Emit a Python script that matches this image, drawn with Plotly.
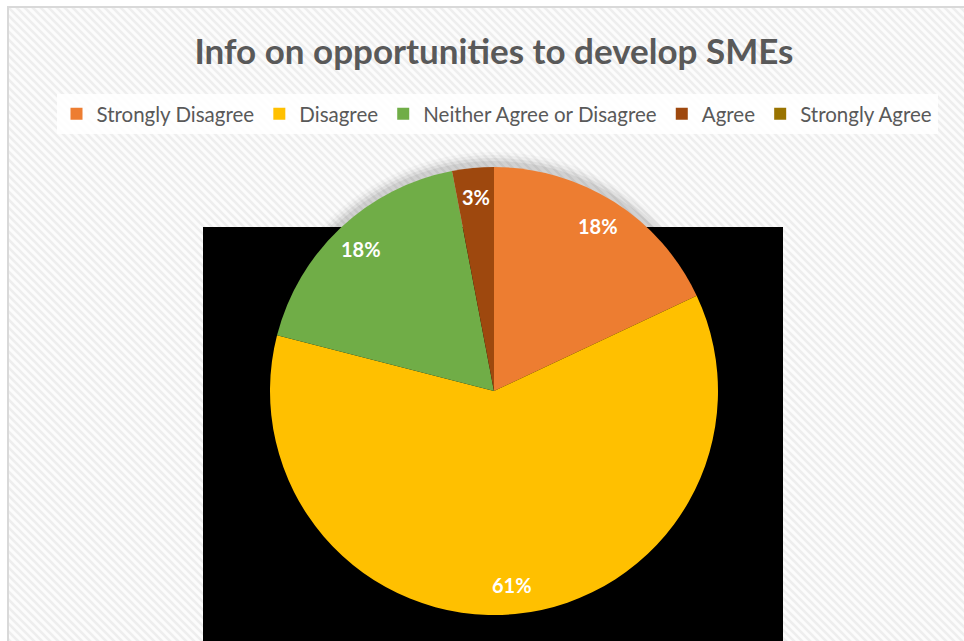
import base64
import math
import plotly.graph_objects as go

# Survey responses
categories = ["Strongly Disagree", "Disagree", "Neither Agree or Disagree", "Agree", "Strongly Agree"]
shares = [18, 61, 18, 3, 0]
colors = ["#ED7D31", "#FFC000", "#70AD47", "#9E480E", "#997300"]
chart_title = "Info on opportunities to develop SMEs"

W, H = 964, 641
FONT = "Lato, 'Open Sans', sans-serif"

# Pie placement in pixels
cx, cy, R = 494, 391, 224
dom_x = [(cx - R) / W, (cx + R) / W]
dom_y = [1 - (cy + R) / H, 1 - (cy - R) / H]

fig = go.Figure()
fig.add_trace(go.Pie(
    labels=categories,
    values=shares,
    marker=dict(colors=colors, line=dict(width=0)),
    sort=False,
    direction="clockwise",
    rotation=0,
    textinfo="none",
    hoverinfo="label+percent",
    domain=dict(x=dom_x, y=dom_y),
))

# Percentage labels placed near the outer edge of each slice
total = sum(shares)
cum = 0
annotations = []
for v in shares:
    if v > 0:
        mid = (cum + v / 2) / total * 2 * math.pi
        r = 0.87 * R
        px = cx + r * math.sin(mid)
        py = cy - r * math.cos(mid)
        annotations.append(dict(
            x=px / W, y=1 - py / H, xref="paper", yref="paper",
            xanchor="center", yanchor="middle",
            text=f"<b>{v}%</b>", showarrow=False,
            font=dict(family=FONT, size=20, color="white"),
        ))
    cum += v

# Diagonal-stripe chart area background
svg = (
    f'<svg xmlns="http://www.w3.org/2000/svg" width="{W}" height="{H}">'
    '<defs><pattern id="p" width="8" height="8" patternUnits="userSpaceOnUse">'
    '<rect width="8" height="8" fill="#fcfcfc"/>'
    '<path d="M-2,6 L2,10 M0,0 L8,8 M6,-2 L10,2" stroke="#eeeeee" stroke-width="2.6"/>'
    '</pattern></defs>'
    f'<rect width="{W}" height="{H}" fill="url(#p)"/></svg>'
)
src = "data:image/svg+xml;base64," + base64.b64encode(svg.encode()).decode()

shapes = [
    # chart border
    dict(type="rect", xref="paper", yref="paper",
         x0=8 / W, x1=1.02, y0=-0.02, y1=1 - 7 / H,
         line=dict(color="#d9d9d9", width=2), fillcolor="rgba(0,0,0,0)", layer="below"),
    # black panel behind the pie
    dict(type="rect", xref="paper", yref="paper",
         x0=203 / W, x1=783 / W, y0=-0.01, y1=1 - 227 / H,
         line=dict(width=0), fillcolor="black", layer="below"),
]
# soft shadow around the pie
for k, a in [(12, 0.025), (9, 0.035), (6, 0.05), (3, 0.06)]:
    shapes.append(dict(
        type="circle", xref="paper", yref="paper",
        x0=(cx - R - k) / W, x1=(cx + R + k) / W,
        y0=1 - (cy - 3 + R + k) / H, y1=1 - (cy - 3 - R - k) / H,
        line=dict(width=0), fillcolor=f"rgba(0,0,0,{a})", layer="below",
    ))

fig.update_layout(
    width=W, height=H,
    margin=dict(l=0, r=0, t=0, b=0),
    paper_bgcolor="white",
    plot_bgcolor="white",
    images=[dict(source=src, xref="paper", yref="paper",
                 x=9 / W, y=1 - 8 / H, sizex=1, sizey=1,
                 xanchor="left", yanchor="top", sizing="stretch", layer="below")],
    shapes=shapes,
    annotations=annotations,
    title=dict(text=f"<b>{chart_title}</b>", x=494 / W, xanchor="center",
               y=1 - 52 / H, yanchor="middle", yref="container",
               font=dict(family=FONT, size=35, color="#595959")),
    legend=dict(orientation="h", x=497 / W, xanchor="center",
                y=1 - 94 / H, yanchor="top",
                bgcolor="rgba(255,255,255,0.85)",
                font=dict(family=FONT, size=20.5, color="#595959"),
                itemclick=False),
    showlegend=True,
)

fig.write_html("out.html")
